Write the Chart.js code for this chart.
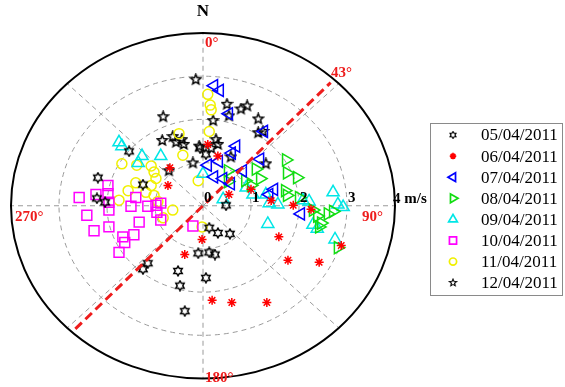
<!DOCTYPE html>
<html>
<head>
<meta charset="utf-8">
<script src="https://cdn.jsdelivr.net/npm/chart.js@4.4.0/dist/chart.umd.min.js"></script>
<style>
  html, body { margin: 0; padding: 0; background: #fff; }
  canvas { display: block; }
</style>
</head>
<body>
<canvas id="chart" width="565" height="387"></canvas>
<script>
// wind vectors per day as [east, north] components, m/s
const dates = ['05/04/2011', '06/04/2011', '07/04/2011', '08/04/2011',
               '09/04/2011', '10/04/2011', '11/04/2011', '12/04/2011'];

const day05 = [[-1.54, 1.26], [-2.19, 0.65], [-1.25, 0.49], [-2.21, 0.17], [-2.04, 0.08],
  [0.48, 0.01], [0.13, -0.51], [0.31, -0.63], [0.56, -0.65], [-0.10, -1.10], [0.13, -1.08],
  [0.25, -1.13], [-1.15, -1.33], [-1.25, -1.47], [-0.52, -1.51], [-0.48, -1.85], [0.06, -1.67],
  [-0.38, -2.44], [-0.06, 1.33], [0.06, 1.19]];
const day06 = [[-0.02, -0.78], [-0.38, -1.13], [1.58, -0.72], [1.77, -1.26], [2.42, -1.31],
  [2.88, -0.92], [0.19, -2.19], [0.60, -2.24], [1.33, -2.24], [-0.69, 0.88], [-0.73, 0.47],
  [0.54, 0.26], [0.31, 1.15], [0.10, 1.42], [1.00, 0.38], [1.42, 0.12], [1.88, 0.01], [2.25, -0.08]];
const day07 = [[0.23, 2.78], [0.35, 2.67], [0.54, 2.13], [1.27, 1.72], [0.69, 1.38], [0.60, 1.22],
  [1.19, 1.08], [0.33, 1.03], [0.10, 0.94], [0.83, 0.81], [0.23, 0.67], [0.42, 0.63], [0.58, 0.51],
  [1.48, 0.38], [1.38, 0.26], [2.04, -0.19]];
const day08 = [[1.73, 1.06], [1.75, 0.76], [1.96, 0.65], [1.10, 0.85], [1.19, 0.63], [0.52, 0.81],
  [0.52, 0.56], [0.88, 0.58], [1.00, 0.47], [1.71, 0.35], [1.75, 0.24], [2.00, 0.19], [2.29, -0.10],
  [2.38, -0.24], [2.46, -0.40], [2.60, -0.19], [2.71, -0.13], [2.81, -0.97], [2.42, -0.49]];
const day09 = [[-1.75, 1.47], [-1.69, 1.38], [-1.27, 1.15], [-1.35, 0.99], [-0.88, 1.15], [0.00, 0.74],
  [0.42, 0.15], [0.90, 0.42], [1.04, 0.26], [1.31, 0.26], [1.38, 0.06], [1.56, 0.03], [2.08, 0.13],
  [2.21, 0.10], [2.71, 0.31], [2.81, 0.03], [2.92, -0.03], [2.29, -0.44], [2.38, -0.53], [1.35, -0.42],
  [2.75, -0.78]];
const day10 = [[-2.58, 0.19], [-2.23, 0.26], [-1.98, 0.47], [-1.96, 0.08], [-1.96, -0.10], [-1.50, -0.01],
  [-1.40, 0.19], [-1.15, -0.01], [-0.98, 0.01], [-0.88, 0.06], [-0.96, -0.15], [-0.88, -0.33],
  [-2.42, -0.22], [-2.27, -0.58], [-1.96, -0.49], [-1.67, -0.72], [-1.44, -0.67], [-1.63, -0.85],
  [-1.75, -1.08], [-1.33, -0.38], [-0.21, -0.47], [-1.98, 0.28]];
const day11 = [[0.10, 2.58], [0.15, 2.33], [0.17, 2.22], [0.13, 1.72], [-0.50, 1.67], [-0.42, 1.17],
  [-1.69, 0.97], [-1.38, 0.94], [-1.08, 0.92], [-1.02, 0.78], [-0.98, 0.63], [-1.08, 0.47],
  [-1.40, 0.53], [-1.56, 0.35], [-1.75, 0.13], [-1.02, 0.24], [-0.94, 0.10], [-0.63, -0.10],
  [-0.83, -0.28], [-0.10, 0.58], [-0.02, -0.49], [-1.19, 0.31]];
const day12 = [[-0.15, 2.92], [-0.83, 2.06], [0.21, 1.97], [0.50, 2.35], [0.54, 2.08], [0.79, 2.24],
  [0.92, 2.31], [1.15, 2.01], [1.15, 1.69], [1.25, 1.72], [-0.85, 1.51], [-0.63, 1.60], [-0.56, 1.47],
  [-0.44, 1.53], [-0.40, 1.42], [0.27, 1.53], [0.31, 1.42], [-0.08, 1.38], [-0.21, 0.99], [0.58, 1.13],
  [1.31, 0.97], [-0.71, 0.81], [0.17, 1.33]];

const ringValues = [1, 2, 3];
const speedLabels = ['0', '1', '2', '3'];
const maxSpeed = 4;
const spokeAngles = [0, 45, 90, 135, 180, 225, 270, 315];
const compassLabels = ['0°', '90°', '180°', '270°'];
const trendAngle = 43;

function starCanvas(points, inner, size) {
  const c = document.createElement('canvas');
  c.width = c.height = size;
  const g = c.getContext('2d');
  const r = size / 2 - 1.2, ri = r * inner;
  g.beginPath();
  for (let i = 0; i < points * 2; i++) {
    const a = Math.PI * i / points - Math.PI / 2;
    const rr = i % 2 ? ri : r;
    g.lineTo(size / 2 + rr * Math.cos(a), size / 2 + rr * Math.sin(a));
  }
  g.closePath();
  g.strokeStyle = '#000';
  g.lineWidth = 1.5;
  g.stroke();
  return c;
}
const hexagram = starCanvas(6, 0.58, 12);
const pentagram = starCanvas(5, 0.45, 13);

const series = [day05, day06, day07, day08, day09, day10, day11, day12];
const colors = ['#000000', '#ff0000', '#0000ff', '#11dd11', '#00e6e6', '#ff00ff', '#f0f000', '#000000'];
const styles = [hexagram, 'star', 'triangle', 'triangle', 'triangle', 'rect', 'circle', pentagram];
const rotations = [0, 0, -90, 90, 0, 0, 0, 0];
const radii = [6, 4.5, 7, 7, 7, 7, 5, 6.5];

const datasets = series.map((pts, i) => ({
  label: dates[i],
  data: pts.map(([x, y]) => ({ x, y })),
  pointStyle: styles[i],
  pointRotation: rotations[i],
  pointRadius: radii[i],
  borderColor: colors[i],
  backgroundColor: 'rgba(0,0,0,0)',
  pointBorderWidth: 1.5,
  clip: false
}));

const serif = "'Liberation Serif', 'Times New Roman', serif";

const polarFrame = {
  id: 'polarFrame',
  beforeDatasetsDraw(chart) {
    const ctx = chart.ctx;
    const xs = chart.scales.x, ys = chart.scales.y;
    const px = v => xs.getPixelForValue(v), py = v => ys.getPixelForValue(v);
    const cx = px(0), cy = py(0);
    ctx.save();
    ctx.strokeStyle = '#9a9a9a';
    ctx.lineWidth = 1;
    ctx.setLineDash([5, 4]);
    ringValues.forEach(r => {
      ctx.beginPath();
      ctx.ellipse(cx, cy, px(r) - cx, cy - py(r), 0, 0, 2 * Math.PI);
      ctx.stroke();
    });
    spokeAngles.forEach(a => {
      const t = a * Math.PI / 180;
      ctx.beginPath();
      ctx.moveTo(cx, cy);
      ctx.lineTo(px(maxSpeed * Math.sin(t)), py(maxSpeed * Math.cos(t)));
      ctx.stroke();
    });
    ctx.setLineDash([]);
    ctx.strokeStyle = '#000';
    ctx.lineWidth = 2;
    ctx.beginPath();
    ctx.ellipse(cx, cy, px(maxSpeed) - cx, cy - py(maxSpeed), 0, 0, 2 * Math.PI);
    ctx.stroke();
    ctx.restore();
  },
  afterDatasetsDraw(chart) {
    const ctx = chart.ctx;
    const xs = chart.scales.x, ys = chart.scales.y;
    const px = v => xs.getPixelForValue(v), py = v => ys.getPixelForValue(v);
    const cx = px(0), cy = py(0);
    const t = trendAngle * Math.PI / 180, L = 3.9;
    ctx.save();
    ctx.strokeStyle = '#ee1c1c';
    ctx.lineWidth = 3;
    ctx.setLineDash([9, 5]);
    ctx.beginPath();
    ctx.moveTo(px(-L * Math.sin(t)), py(-L * Math.cos(t)));
    ctx.lineTo(px(L * Math.sin(t)), py(L * Math.cos(t)));
    ctx.stroke();
    ctx.setLineDash([]);

    // speed labels along the east axis
    ctx.fillStyle = '#000';
    ctx.font = 'bold 15px ' + serif;
    ctx.textBaseline = 'middle';
    ctx.textAlign = 'left';
    speedLabels.forEach((s, i) => ctx.fillText(s, px(i) + 1, cy - 8));
    ctx.fillText(maxSpeed + ' m/s', px(maxSpeed) - 2, cy - 7);
    ctx.font = 'bold 17px ' + serif;
    ctx.textAlign = 'center';
    ctx.fillText('N', cx, 12);

    // compass labels
    ctx.fillStyle = '#ee1c1c';
    ctx.font = 'bold 15px ' + serif;
    ctx.textAlign = 'left';
    ctx.fillText(compassLabels[0], cx + 2, 43);
    ctx.fillText(compassLabels[1], 362, cy + 11);
    ctx.fillText(compassLabels[2], cx + 2, 378);
    ctx.fillText(compassLabels[3], 15, cy + 11);
    ctx.fillText(trendAngle + '°', 331, 73);
    ctx.restore();
  },
  afterDraw(chart) {
    const ctx = chart.ctx;
    ctx.save();
    ctx.strokeStyle = '#8a8a8a';
    ctx.lineWidth = 1;
    ctx.strokeRect(430.5, 123.5, 132, 172);
    ctx.font = '17px ' + serif;
    ctx.textBaseline = 'middle';
    ctx.textAlign = 'left';
    chart.data.datasets.forEach((ds, i) => {
      const y = 135 + i * 21.1;
      ctx.save();
      ctx.translate(453, y);
      ctx.scale(0.72, 0.72);
      ctx.strokeStyle = ds.borderColor;
      ctx.fillStyle = 'rgba(0,0,0,0)';
      ctx.lineWidth = 2.4;
      Chart.helpers.drawPoint(ctx, {
        pointStyle: ds.pointStyle, rotation: ds.pointRotation,
        radius: ds.pointRadius, borderWidth: 2.4
      }, 0, 0);
      ctx.restore();
      ctx.fillStyle = '#000';
      ctx.fillText(ds.label, 481, y + 1);
    });
    ctx.restore();
  }
};

new Chart(document.getElementById('chart'), {
  type: 'scatter',
  data: { datasets },
  options: {
    responsive: false,
    animation: false,
    layout: { padding: { left: 11, right: 170, top: 33, bottom: 2 } },
    scales: {
      x: { min: -maxSpeed, max: maxSpeed, display: false },
      y: { min: -maxSpeed, max: maxSpeed, display: false }
    },
    plugins: { legend: { display: false }, tooltip: { enabled: false } }
  },
  plugins: [polarFrame]
});
</script>
</body>
</html>
